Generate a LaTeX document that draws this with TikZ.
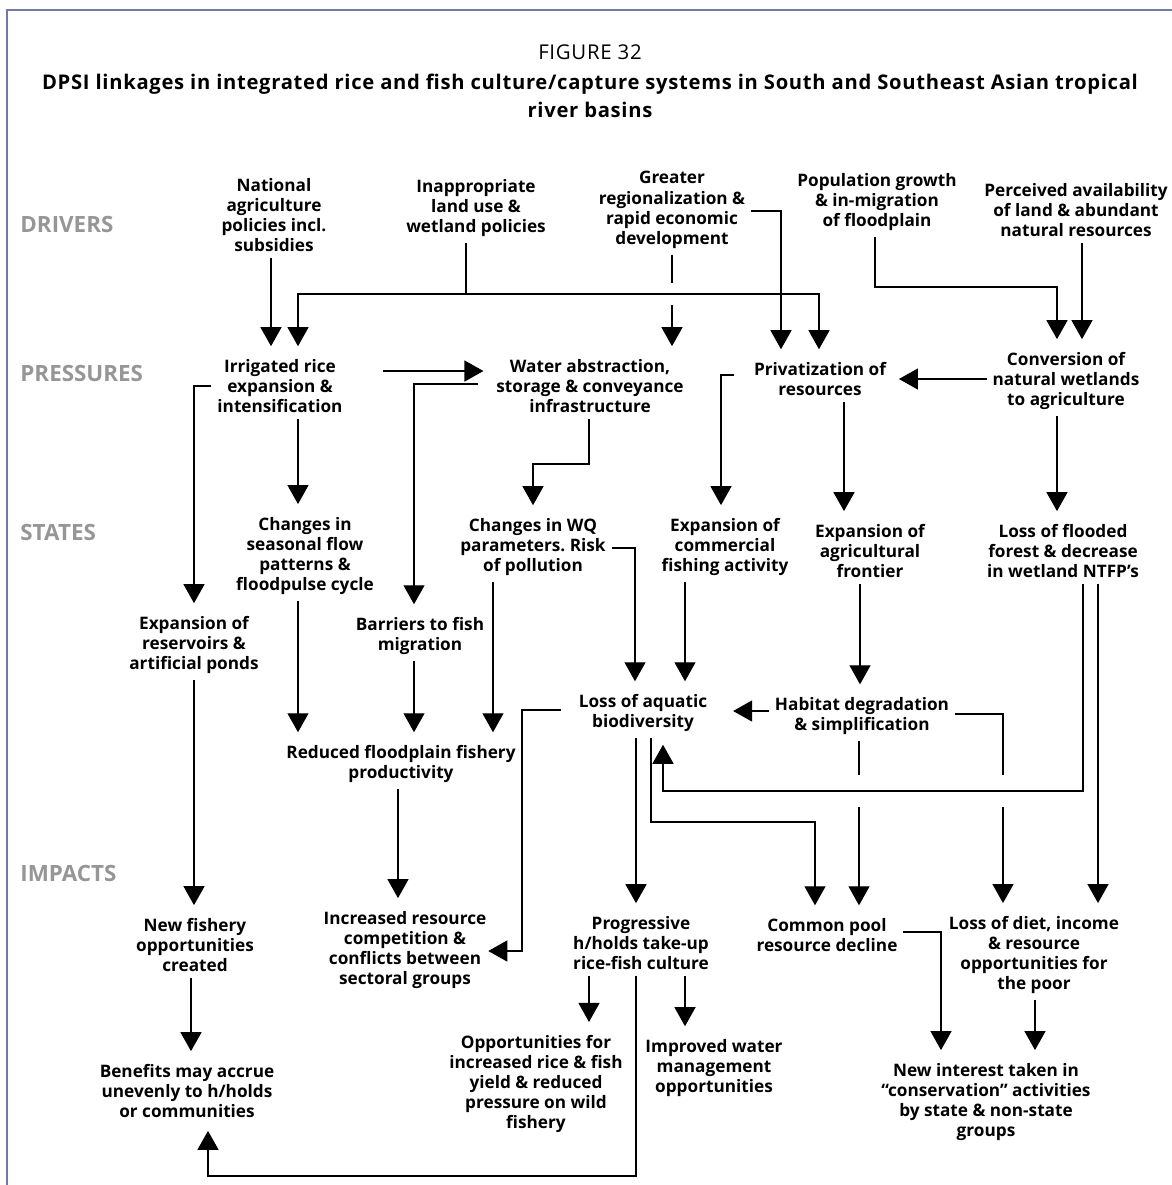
\documentclass[tikz,border=0pt]{standalone}
\usepackage{fontspec}
\setmainfont{Open Sans}
\newfontfamily\captionfont[LetterSpace=3.5]{Open Sans}
\usepackage{tikz}
\usepackage{xcolor}
\usetikzlibrary{arrows.meta}

\definecolor{framecol}{RGB}{112,122,168}
\definecolor{stagecol}{RGB}{150,150,150}

\begin{document}
\begin{tikzpicture}[x=0.5pt,y=-0.5pt,
    box/.style={align=center,font=\bfseries\fontsize{8.6}{10.1}\selectfont,inner sep=0pt,outer sep=3pt},
    stage/.style={anchor=west,text=stagecol,font=\bfseries\fontsize{11.2}{13}\selectfont,inner sep=0pt},
    link/.style={line width=0.65pt},
    arr/.style={link,-{Triangle[length=9.5pt,width=10.5pt]},shorten >=3.5pt}]
    \useasboundingbox (0,0) rectangle (1172,1185);

    % Frame & caption
    \draw [framecol,line width=1pt] (1172,10) to (7,10) to (7,1185);
    \node (FigureNo) at (590,52) [font=\captionfont\fontsize{10.2}{12}\selectfont] {FIGURE 32};
    \node (Caption) at (590,96) [align=center,font=\captionfont\bfseries\fontsize{10.1}{14}\selectfont]
    {DPSI linkages in integrated rice and fish culture/capture systems in South and Southeast Asian tropical\\river basins};

    % Stage labels
    \node (Drivers) at (20,224) [stage] {DRIVERS};
    \node (Pressures) at (20,373) [stage] {PRESSURES};
    \node (States) at (20,532) [stage] {STATES};
    \node (Impacts) at (20,873) [stage] {IMPACTS};

    % Drivers
    \node (National) at (274,215) [box] {National\\agriculture\\policies incl.\\subsidies};
    \node (Inappropriate) at (476,208) [box] {Inappropriate\\land use \&\\wetland policies};
    \node (Greater) at (672,210) [box] {Greater\\regionalization \&\\rapid economic\\development};
    \node (Population) at (877,202) [box] {Population growth\\\& in-migration\\of floodplain};
    \node (Perceived) at (1076,210) [box] {Perceived availability\\of land \& abundant\\natural resources};

    % Pressures
    \node (Irrigated) at (280,386) [box] {Irrigated rice\\expansion \&\\intensification};
    \node (Water) at (590,386) [box] {Water abstraction,\\storage \& conveyance\\infrastructure};
    \node (Privatization) at (820,379) [box] {Privatization of\\resources};
    \node (Conversion) at (1066,381) [box] {Conversion of\\natural wetlands\\to agriculture};

    % States
    \node (Seasonal) at (305,556) [box] {Changes in\\seasonal flow\\patterns \&\\floodpulse cycle};
    \node (Quality) at (533,547) [box] {Changes in WQ\\parameters.\ Risk\\of pollution};
    \node (Commercial) at (725,547) [box] {Expansion of\\commercial\\fishing activity};
    \node (Frontier) at (870,551) [box] {Expansion of\\agricultural\\frontier};
    \node (Forest) at (1063,551) [box] {Loss of flooded\\forest \& decrease\\in wetland NTFP’s};
    \node (Reservoirs) at (194,645) [box] {Expansion of\\reservoirs \&\\artificial ponds};
    \node (Barriers) at (420,636) [box] {Barriers to fish\\migration};
    \node (Biodiversity) at (643,713) [box] {Loss of aquatic\\biodiversity};
    \node (Habitat) at (862,716) [box] {Habitat degradation\\\& simplification};
    \node (Reduced) at (401,764) [box] {Reduced floodplain fishery\\productivity};

    % Impacts
    \node (NewFishery) at (195,945) [box] {New fishery\\opportunities\\created};
    \node (Competition) at (405,950) [box] {Increased resource\\competition \&\\conflicts between\\sectoral groups};
    \node (Progressive) at (641,943) [box] {Progressive\\h/holds take-up\\rice-fish culture};
    \node (CommonPool) at (827,935) [box] {Common pool\\resource decline};
    \node (Diet) at (1034,955) [box] {Loss of diet, income\\\& resource\\opportunities for\\the poor};
    \node (Benefits) at (187,1091) [box] {Benefits may accrue\\unevenly to h/holds\\or communities};
    \node (RiceFish) at (536,1084) [box] {Opportunities for\\increased rice \& fish\\yield \& reduced\\pressure on wild\\fishery};
    \node (WaterMgmt) at (714,1068) [box] {Improved water\\management\\opportunities};
    \node (Conservation) at (986,1102) [box] {New interest taken in\\“conservation” activities\\by state \& non-state\\groups};

    % Bends & gaps
    \coordinate (Split) at (466,294);
    \coordinate (GapA) at (672,283);
    \coordinate (GapB) at (672,305);
    \coordinate (Migration) at (1057,287);
    \coordinate (WQBend) at (533,464);
    \coordinate (ConflictBend) at (522,710);
    \coordinate (PoolBend) at (651,822);
    \coordinate (ForestBend) at (1083,791);
    \coordinate (HabGapA) at (859,775);
    \coordinate (HabGapB) at (859,807);
    \coordinate (DietGapA) at (1003,775);
    \coordinate (DietGapB) at (1003,807);
    \coordinate (BenefitBend) at (636,1176);

    % Drivers to pressures
    \draw [arr] (National.south -| 271,0) to (Irrigated.north -| 271,0);
    \draw [link] (Inappropriate.south -| Split) to (Split);
    \draw [arr] (Split) -| (Irrigated.north -| 298,0);
    \draw [arr] (Split) -| (Privatization.north -| 819,0);
    \draw [link] (Greater.south) to (GapA);
    \draw [arr] (GapB) to (Water.north -| GapB);
    \draw [arr] (Greater.east |- 0,211) -| (Privatization.north -| 781,0);
    \draw [arr] (Population.south -| 875,0) |- (Migration) to (Conversion.north -| Migration);
    \draw [arr] (Perceived.south -| 1082,0) to (Conversion.north -| 1082,0);

    % Pressures to states
    \draw [arr,shorten <=17pt] (Irrigated.east |- 0,371) to (Water.west |- 0,371);
    \draw [arr,shorten <=6pt] (Water.west |- 0,384) -| (Barriers.north -| 414,0);
    \draw [arr] (Irrigated.west |- 0,386) -| (Reservoirs.north -| 194,0);
    \draw [arr] (Irrigated.south -| 298,0) to (Seasonal.north -| 298,0);
    \draw [arr] (Water.south -| 589,0) |- (WQBend) to (Quality.north -| WQBend);
    \draw [arr] (Conversion.west |- 0,379) to (Privatization.east |- 0,379);
    \draw [arr,shorten <=7pt] (Privatization.west |- 0,375) -| (Commercial.north -| 721,0);
    \draw [arr] (Privatization.south -| 844,0) to (Frontier.north -| 844,0);
    \draw [arr] (Conversion.south -| 1057,0) to (Forest.north -| 1057,0);

    % States to states & impacts
    \draw [arr] (Seasonal.south -| 298,0) to (Reduced.north -| 298,0);
    \draw [arr] (Barriers.south -| 414,0) to (Reduced.north -| 414,0);
    \draw [arr] (Quality.south -| 493,0) to (Reduced.north -| 493,0);
    \draw [arr] (Quality.east |- 0,548) -| (Biodiversity.north -| 635,0);
    \draw [arr] (Commercial.south -| 685,0) to (Biodiversity.north -| 685,0);
    \draw [arr] (Frontier.south -| 860,0) to (Habitat.north -| 860,0);
    \draw [arr,shorten >=10pt] (Habitat.west |- 0,711) to (Biodiversity.east |- 0,711);
    \draw [arr] (Reservoirs.south -| 194,0) to (NewFishery.north -| 194,0);
    \draw [arr,shorten <=6pt,shorten >=-2pt] (Biodiversity.west |- ConflictBend) to (ConflictBend) |- (Competition.east |- 0,951);
    \draw [arr] (Reduced.south -| 398,0) to (Competition.north -| 398,0);
    \draw [arr] (Biodiversity.south -| 636,0) to (Progressive.north -| 636,0);
    \draw [arr] (Biodiversity.south -| PoolBend) to (PoolBend) -| (CommonPool.north -| 815,0);
    \draw [arr] (Forest.south -| ForestBend) to (ForestBend) -| (Biodiversity.south -| 663,0);
    \draw [arr] (Forest.south -| 1098,0) to (Diet.north -| 1098,0);
    \draw [link] (Habitat.south -| HabGapA) to (HabGapA);
    \draw [arr] (HabGapB) to (CommonPool.north -| HabGapB);
    \draw [link] (Habitat.east |- 0,714) -| (DietGapA);
    \draw [arr] (DietGapB) to (Diet.north -| DietGapB);

    % Impacts to impacts
    \draw [arr] (NewFishery.south -| 191,0) to (Benefits.north -| 191,0);
    \draw [arr] (Progressive.south -| 589,0) to (RiceFish.north -| 589,0);
    \draw [arr] (Progressive.south -| 685,0) to (WaterMgmt.north -| 685,0);
    \draw [arr] (Progressive.south -| BenefitBend) to (BenefitBend) -| (Benefits.south -| 208,0);
    \draw [arr] (CommonPool.east |- 0,932) -| (Conservation.north -| 941,0);
    \draw [arr] (Diet.south -| 1035,0) to (Conservation.north -| 1035,0);
\end{tikzpicture}
\end{document}
